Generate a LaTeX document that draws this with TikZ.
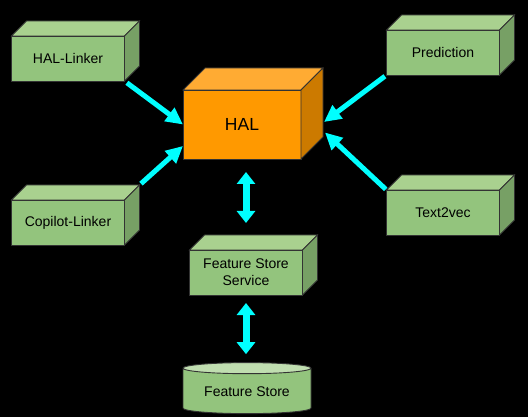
\documentclass[tikz,border=0pt]{standalone}
\usepackage{fontspec}
\setmainfont{Liberation Sans}
\definecolor{greenfront}{RGB}{147,196,125}
\definecolor{greentop}{RGB}{169,209,143}
\definecolor{greenside}{RGB}{119,160,101}
\definecolor{greenlid}{RGB}{192,222,176}
\definecolor{orangefront}{RGB}{255,153,0}
\definecolor{orangetop}{RGB}{255,171,51}
\definecolor{orangeside}{RGB}{204,122,0}
\definecolor{rimgray}{RGB}{51,51,51}
\definecolor{flowcyan}{RGB}{0,255,255}
\usetikzlibrary{shapes,arrows.meta,positioning,calc}

% front face as a named node, top and side faces hung on its corners
\newcommand{\cuboid}[6]{%
    \node[cubeface, fill=#4front, #5] (#1) at (#2) {#6};
    \draw[rim, fill=#4top] (#1.north west) -- ++(#3,-#3) -- ($(#1.north east)+(#3,-#3)$) -- (#1.north east) -- cycle;
    \draw[rim, fill=#4side] (#1.north east) -- ++(#3,-#3) -- ($(#1.south east)+(#3,-#3)$) -- (#1.south east) -- cycle;
}

\begin{document}
\begin{tikzpicture}[x=1pt, y=-1pt,
    every node/.style={font=\fontsize{14}{17.3}\selectfont},
    rim/.style={draw=rimgray, line width=0.9pt},
    cubeface/.style={rim, outer sep=0pt, minimum width=113pt, minimum height=45pt, align=center},
    feed/.style={flowcyan, line width=5pt, -{Triangle[length=17pt,width=16pt]}},
    link/.style={flowcyan, line width=7pt, {Triangle[length=12pt,width=18pt]}-{Triangle[length=12pt,width=18pt]}}]
    \fill[black] (0,0) rectangle (528,417);

    \cuboid{hal}{242,124.5}{22}{orange}{minimum width=118pt, minimum height=69pt, font=\fontsize{17.5}{20}\selectfont}{HAL}
    \foreach \name/\pos/\label in {
        hallinker/{68,58.5}/HAL-Linker,
        copilot/{68,222.5}/Copilot-Linker,
        prediction/{443,52.5}/Prediction,
        textvec/{443,212.5}/Text2vec,
        fss/{246,272.5}/Feature Store\\Service
    } {
        \cuboid{\name}{\pos}{15}{green}{}{\label}
    }
    \node[rim, cylinder, shape border rotate=90, aspect=0.12, minimum width=128pt, minimum height=51pt,
        cylinder uses custom fill, cylinder end fill=greenlid, cylinder body fill=greenfront] (fs) at (247,392) {Feature Store};

    \draw[feed, shorten <=3pt] (hallinker.south east) -- (hal.west);
    \draw[feed, shorten <=2pt] ($(copilot.north east)+(15,-15)$) -- (hal.200);
    \draw[feed, shorten <=2pt] (prediction.south west) -- ($(hal.east)+(23,-2.5)$);
    \draw[feed, shorten <=1pt] (textvec.north west) -- ($(hal.east)+(24,8)$);
    \draw[link, shorten <=13pt, shorten >=27pt] (fss.north |- hal.south) -- (fss.north);
    \draw[link, shorten <=8pt, shorten >=8pt] (fss.south) -- (fss.south |- fs.north);
\end{tikzpicture}
\end{document}
